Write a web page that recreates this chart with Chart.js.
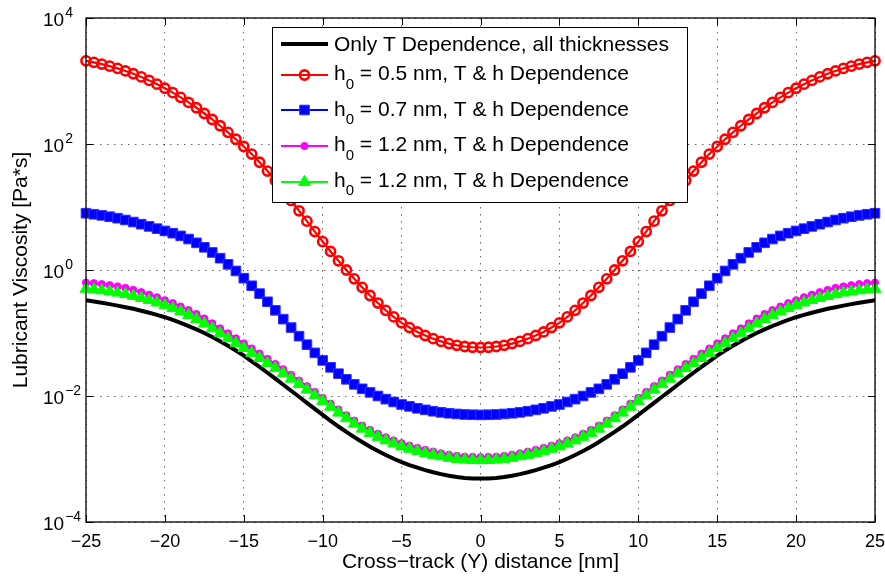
<!DOCTYPE html>
<html>
<head>
<meta charset="utf-8">
<script src="https://cdn.jsdelivr.net/npm/chart.js@4.4.1/dist/chart.umd.min.js"></script>
<style>
  html, body { margin: 0; padding: 0; background: #fff; }
  #wrap { width: 885px; height: 578px; }
</style>
</head>
<body>
<div id="wrap"><canvas id="chart" width="885" height="578"></canvas></div>
<script>
/* ========= Data ========= */
const xValues = [
  -25, -24.5, -24, -23.5, -23, -22.5, -22, -21.5, -21, -20.5,
  -20, -19.5, -19, -18.5, -18, -17.5, -17, -16.5, -16, -15.5,
  -15, -14.5, -14, -13.5, -13, -12.5, -12, -11.5, -11, -10.5,
  -10, -9.5, -9, -8.5, -8, -7.5, -7, -6.5, -6, -5.5,
  -5, -4.5, -4, -3.5, -3, -2.5, -2, -1.5, -1, -0.5,
  0,
  0.5, 1, 1.5, 2, 2.5, 3, 3.5, 4, 4.5, 5,
  5.5, 6, 6.5, 7, 7.5, 8, 8.5, 9, 9.5, 10,
  10.5, 11, 11.5, 12, 12.5, 13, 13.5, 14, 14.5, 15,
  15.5, 16, 16.5, 17, 17.5, 18, 18.5, 19, 19.5, 20,
  20.5, 21, 21.5, 22, 22.5, 23, 23.5, 24, 24.5, 25
];

// Only T dependence (black)
const onlyT = [
  0.331, 0.317, 0.302, 0.287, 0.272, 0.257, 0.242, 0.226, 0.210, 0.194,
  0.178, 0.161, 0.145, 0.129, 0.114, 0.100, 8.67e-2, 7.41e-2, 6.28e-2, 5.27e-2,
  4.37e-2, 3.56e-2, 2.90e-2, 2.34e-2, 1.89e-2, 1.51e-2, 1.21e-2, 9.72e-3, 7.80e-3, 6.25e-3,
  5.01e-3, 4.04e-3, 3.28e-3, 2.69e-3, 2.23e-3, 1.86e-3, 1.57e-3, 1.34e-3, 1.16e-3, 1.01e-3,
  8.91e-4, 8.02e-4, 7.28e-4, 6.67e-4, 6.17e-4, 5.75e-4, 5.42e-4, 5.18e-4, 5.01e-4, 4.92e-4,
  4.90e-4,
  4.92e-4, 5.01e-4, 5.18e-4, 5.42e-4, 5.75e-4, 6.17e-4, 6.67e-4, 7.28e-4, 8.02e-4, 8.91e-4,
  1.01e-3, 1.16e-3, 1.34e-3, 1.57e-3, 1.86e-3, 2.23e-3, 2.69e-3, 3.28e-3, 4.04e-3, 5.01e-3,
  6.25e-3, 7.80e-3, 9.72e-3, 1.21e-2, 1.51e-2, 1.89e-2, 2.34e-2, 2.90e-2, 3.56e-2, 4.37e-2,
  5.27e-2, 6.28e-2, 7.41e-2, 8.67e-2, 0.100, 0.114, 0.129, 0.145, 0.161, 0.178,
  0.194, 0.210, 0.226, 0.242, 0.257, 0.272, 0.287, 0.302, 0.317, 0.331
];

// h0 = 0.5 nm (red circles)
const h05 = [
  2089, 1977, 1854, 1722, 1585, 1445, 1303, 1161, 1023, 891,
  767, 653, 550, 457, 376, 305, 245, 195, 153, 119,
  91.2, 69.2, 51.3, 37.2, 26.3, 18.4, 12.7, 8.71, 5.96, 4.07,
  2.82, 1.97, 1.40, 1.00, 0.724, 0.531, 0.394, 0.299, 0.229, 0.180,
  0.145, 0.122, 0.104, 0.0912, 0.0813, 0.0736, 0.0679, 0.0638, 0.0611, 0.0594,
  0.0589,
  0.0594, 0.0611, 0.0638, 0.0679, 0.0736, 0.0813, 0.0912, 0.104, 0.122, 0.145,
  0.180, 0.229, 0.299, 0.394, 0.531, 0.724, 1.00, 1.40, 1.97, 2.82,
  4.07, 5.96, 8.71, 12.7, 18.4, 26.3, 37.2, 51.3, 69.2, 91.2,
  119, 153, 195, 245, 305, 376, 457, 550, 653, 767,
  891, 1023, 1161, 1303, 1445, 1585, 1722, 1854, 1977, 2089
];

// h0 = 0.7 nm (blue squares)
const h07 = [
  7.96, 7.67, 7.36, 7.01, 6.64, 6.22, 5.77, 5.33, 4.92, 4.53,
  4.17, 3.84, 3.48, 3.10, 2.70, 2.29, 1.90, 1.54, 1.23, 0.966,
  0.741, 0.562, 0.422, 0.313, 0.229, 0.166, 0.122, 8.91e-2, 6.53e-2, 4.84e-2,
  3.67e-2, 2.85e-2, 2.26e-2, 1.84e-2, 1.53e-2, 1.30e-2, 1.14e-2, 1.00e-2, 8.91e-3, 8.04e-3,
  7.33e-3, 6.84e-3, 6.38e-3, 6.03e-3, 5.73e-3, 5.50e-3, 5.32e-3, 5.19e-3, 5.09e-3, 5.04e-3,
  5.01e-3,
  5.04e-3, 5.09e-3, 5.19e-3, 5.32e-3, 5.50e-3, 5.73e-3, 6.03e-3, 6.38e-3, 6.84e-3, 7.33e-3,
  8.04e-3, 8.91e-3, 1.00e-2, 1.14e-2, 1.30e-2, 1.53e-2, 1.84e-2, 2.26e-2, 2.85e-2, 3.67e-2,
  4.84e-2, 6.53e-2, 8.91e-2, 0.122, 0.166, 0.229, 0.313, 0.422, 0.562, 0.741,
  0.966, 1.23, 1.54, 1.90, 2.29, 2.70, 3.10, 3.48, 3.84, 4.17,
  4.53, 4.92, 5.33, 5.77, 6.22, 6.64, 7.01, 7.36, 7.67, 7.96
];

// h0 = 1.2 nm (magenta dots)
const h12a = [
  0.631, 0.617, 0.597, 0.574, 0.548, 0.519, 0.482, 0.444, 0.406, 0.369,
  0.331, 0.297, 0.263, 0.231, 0.200, 0.170, 0.142, 0.118, 9.86e-2, 8.22e-2,
  6.84e-2, 5.68e-2, 4.70e-2, 3.89e-2, 3.22e-2, 2.66e-2, 2.17e-2, 1.76e-2, 1.43e-2, 1.16e-2,
  9.33e-3, 7.55e-3, 6.10e-3, 4.95e-3, 4.07e-3, 3.39e-3, 2.90e-3, 2.52e-3, 2.21e-3, 1.97e-3,
  1.78e-3, 1.63e-3, 1.50e-3, 1.40e-3, 1.31e-3, 1.23e-3, 1.17e-3, 1.12e-3, 1.09e-3, 1.08e-3,
  1.07e-3,
  1.08e-3, 1.09e-3, 1.12e-3, 1.17e-3, 1.23e-3, 1.31e-3, 1.40e-3, 1.50e-3, 1.63e-3, 1.78e-3,
  1.97e-3, 2.21e-3, 2.52e-3, 2.90e-3, 3.39e-3, 4.07e-3, 4.95e-3, 6.10e-3, 7.55e-3, 9.33e-3,
  1.16e-2, 1.43e-2, 1.76e-2, 2.17e-2, 2.66e-2, 3.22e-2, 3.89e-2, 4.70e-2, 5.68e-2, 6.84e-2,
  8.22e-2, 9.86e-2, 0.118, 0.142, 0.170, 0.200, 0.231, 0.263, 0.297, 0.331,
  0.369, 0.406, 0.444, 0.482, 0.519, 0.548, 0.574, 0.597, 0.617, 0.631
];

// h0 = 1.2 nm (green triangles)
const h12b = [
  0.501, 0.490, 0.474, 0.456, 0.436, 0.412, 0.386, 0.359, 0.332, 0.304,
  0.275, 0.247, 0.219, 0.192, 0.166, 0.141, 0.118, 9.89e-2, 8.26e-2, 6.90e-2,
  5.75e-2, 4.80e-2, 3.99e-2, 3.32e-2, 2.76e-2, 2.29e-2, 1.88e-2, 1.54e-2, 1.26e-2, 1.02e-2,
  8.32e-3, 6.73e-3, 5.43e-3, 4.42e-3, 3.63e-3, 3.02e-3, 2.58e-3, 2.24e-3, 1.97e-3, 1.76e-3,
  1.58e-3, 1.45e-3, 1.34e-3, 1.24e-3, 1.16e-3, 1.10e-3, 1.04e-3, 1.00e-3, 9.75e-4, 9.59e-4,
  9.55e-4,
  9.59e-4, 9.75e-4, 1.00e-3, 1.04e-3, 1.10e-3, 1.16e-3, 1.24e-3, 1.34e-3, 1.45e-3, 1.58e-3,
  1.76e-3, 1.97e-3, 2.24e-3, 2.58e-3, 3.02e-3, 3.63e-3, 4.42e-3, 5.43e-3, 6.73e-3, 8.32e-3,
  1.02e-2, 1.26e-2, 1.54e-2, 1.88e-2, 2.29e-2, 2.76e-2, 3.32e-2, 3.99e-2, 4.80e-2, 5.75e-2,
  6.90e-2, 8.26e-2, 9.89e-2, 0.118, 0.141, 0.166, 0.192, 0.219, 0.247, 0.275,
  0.304, 0.332, 0.359, 0.386, 0.412, 0.436, 0.456, 0.474, 0.490, 0.501
];

const xTicks = [-25, -20, -15, -10, -5, 0, 5, 10, 15, 20, 25];
const xTickLabels = ["\u221225", "\u221220", "\u221215", "\u221210", "\u22125", "0", "5", "10", "15", "20", "25"];
const yTicks = [1e-4, 1e-2, 1, 1e2, 1e4];
const yTickExp = ["\u22124", "\u22122", "0", "2", "4"];

// legend text: [main, subscript, rest]
const legendText = [
  ["Only T Dependence, all thicknesses", "", ""],
  ["h", "0", " = 0.5 nm, T & h Dependence"],
  ["h", "0", " = 0.7 nm, T & h Dependence"],
  ["h", "0", " = 1.2 nm, T & h Dependence"],
  ["h", "0", " = 1.2 nm, T & h Dependence"]
];

/* ========= Helpers ========= */
const FONT = "'Liberation Sans', Arial, Helvetica, sans-serif";
const pts = arr => xValues.map((x, i) => ({ x: x, y: arr[i] }));

/* ========= Frame, tick labels, legend ========= */
const frame = {
  id: "frame",
  afterDraw(chart) {
    const ctx = chart.ctx;
    const a = chart.chartArea;
    const xs = chart.scales.x, ys = chart.scales.y;
    ctx.save();

    // axes box
    ctx.strokeStyle = "#000";
    ctx.lineWidth = 1.3;
    ctx.strokeRect(a.left, a.top, a.right - a.left, a.bottom - a.top);

    // inward tick marks
    ctx.lineWidth = 1;
    ctx.beginPath();
    xTicks.forEach(v => {
      const px = Math.round(xs.getPixelForValue(v)) + 0.5;
      ctx.moveTo(px, a.bottom); ctx.lineTo(px, a.bottom - 7);
      ctx.moveTo(px, a.top); ctx.lineTo(px, a.top + 7);
    });
    yTicks.forEach(v => {
      const py = Math.round(ys.getPixelForValue(v)) + 0.5;
      ctx.moveTo(a.left, py); ctx.lineTo(a.left + 7, py);
      ctx.moveTo(a.right, py); ctx.lineTo(a.right - 7, py);
    });
    ctx.stroke();

    ctx.fillStyle = "#000";
    ctx.textBaseline = "alphabetic";

    // x tick labels
    ctx.font = "18px " + FONT;
    ctx.textAlign = "center";
    xTicks.forEach((v, i) => {
      ctx.fillText(xTickLabels[i], xs.getPixelForValue(v), a.bottom + 25);
    });

    // y tick labels 10^n
    ctx.textAlign = "left";
    yTicks.forEach((v, i) => {
      const py = ys.getPixelForValue(v);
      ctx.font = "19px " + FONT;
      ctx.fillText("10", 43, py + 7.5);
      const w = ctx.measureText("10").width;
      ctx.font = "14px " + FONT;
      ctx.fillText(yTickExp[i], 43 + w + 1, py - 1.5);
    });

    // legend box
    const L = { left: 272.5, top: 27.5, right: 687.5, bottom: 202.5 };
    ctx.fillStyle = "#fff";
    ctx.fillRect(L.left, L.top, L.right - L.left, L.bottom - L.top);
    ctx.strokeStyle = "#000";
    ctx.lineWidth = 1;
    ctx.strokeRect(L.left, L.top, L.right - L.left, L.bottom - L.top);

    const lineY = [44, 75, 110, 146, 182];
    const baseY = [51, 80, 115.5, 151, 186.5];
    chart.data.datasets.forEach((ds, i) => {
      const y = lineY[i];
      ctx.strokeStyle = ds.borderColor;
      ctx.lineWidth = ds.borderWidth;
      ctx.beginPath();
      ctx.moveTo(281, y); ctx.lineTo(328, y);
      ctx.stroke();
      if (ds.pointRadius > 0) {
        ctx.fillStyle = ds.pointBackgroundColor;
        ctx.strokeStyle = ds.pointBorderColor;
        ctx.lineWidth = ds.pointBorderWidth;
        Chart.helpers.drawPoint(ctx, {
          pointStyle: ds.pointStyle, radius: ds.pointRadius,
          rotation: 0, borderWidth: ds.pointBorderWidth
        }, 304.5, y);
      }
      const t = legendText[i];
      ctx.fillStyle = "#000";
      ctx.textAlign = "left";
      ctx.font = "21px " + FONT;
      let x = 334;
      ctx.fillText(t[0], x, baseY[i]);
      x += ctx.measureText(t[0]).width;
      if (t[1]) {
        ctx.font = "15px " + FONT;
        ctx.fillText(t[1], x, baseY[i] + 8.5);
        x += ctx.measureText(t[1]).width;
        ctx.font = "21px " + FONT;
        ctx.fillText(t[2], x, baseY[i]);
      }
    });
    ctx.restore();
  }
};

/* ========= Chart ========= */
Chart.defaults.font.family = FONT;
Chart.defaults.color = "#000";

const gridOpts = { color: "rgba(0,0,0,0.6)", lineWidth: 1, drawTicks: false };
const borderOpts = { display: false, dash: [1.5, 5.5] };

new Chart(document.getElementById("chart"), {
  type: "line",
  data: {
    datasets: [
      { label: "Only T Dependence, all thicknesses", data: pts(onlyT),
        borderColor: "#000", borderWidth: 4, pointRadius: 0, order: 5 },
      { label: "h0 = 0.5 nm, T & h Dependence", data: pts(h05),
        borderColor: "#ff0000", borderWidth: 2.2, pointStyle: "circle", pointRadius: 4.6,
        pointBorderWidth: 2.6, pointBorderColor: "#ff0000", pointBackgroundColor: "rgba(255,255,255,0)", order: 4 },
      { label: "h0 = 0.7 nm, T & h Dependence", data: pts(h07),
        borderColor: "#0000ff", borderWidth: 2.2, pointStyle: "rect", pointRadius: 6.8,
        pointBorderWidth: 1, pointBorderColor: "#3030ff", pointBackgroundColor: "#0000ff", order: 3 },
      { label: "h0 = 1.2 nm, T & h Dependence", data: pts(h12a),
        borderColor: "#ff00ff", borderWidth: 2.2, pointStyle: "circle", pointRadius: 3.6,
        pointBorderWidth: 1, pointBorderColor: "#ff00ff", pointBackgroundColor: "#ff00ff", order: 2 },
      { label: "h0 = 1.2 nm, T & h Dependence (2)", data: pts(h12b),
        borderColor: "#00ff00", borderWidth: 2.2, pointStyle: "triangle", pointRadius: 6.8,
        pointBorderWidth: 1, pointBorderColor: "#00ff00", pointBackgroundColor: "#00ff00", order: 1 }
    ]
  },
  options: {
    responsive: false,
    animation: false,
    devicePixelRatio: 1,
    clip: false,
    layout: { padding: { top: 18, right: 10, left: 0, bottom: 0 } },
    plugins: { legend: { display: false }, tooltip: { enabled: false } },
    elements: { line: { tension: 0 } },
    scales: {
      x: {
        type: "linear", min: -25, max: 25,
        afterBuildTicks: s => { s.ticks = xTicks.map(v => ({ value: v })); },
        afterFit: s => { s.height = 56; s.paddingLeft = 0; s.paddingRight = 0; },
        ticks: { display: false },
        grid: gridOpts,
        border: borderOpts,
        title: { display: true, text: "Cross\u2212track (Y) distance [nm]",
                 font: { size: 21 }, padding: { top: 0, bottom: 3 } }
      },
      y: {
        type: "logarithmic", min: 1e-4, max: 1e4,
        afterBuildTicks: s => { s.ticks = yTicks.map(v => ({ value: v })); },
        afterFit: s => { s.width = 86; s.paddingTop = 0; s.paddingBottom = 0; },
        ticks: { display: false },
        grid: gridOpts,
        border: borderOpts,
        title: { display: true, text: "Lubricant Viscosity [Pa*s]",
                 font: { size: 21 }, padding: { top: 9, bottom: 0 } }
      }
    }
  },
  plugins: [frame]
});
</script>
</body>
</html>
